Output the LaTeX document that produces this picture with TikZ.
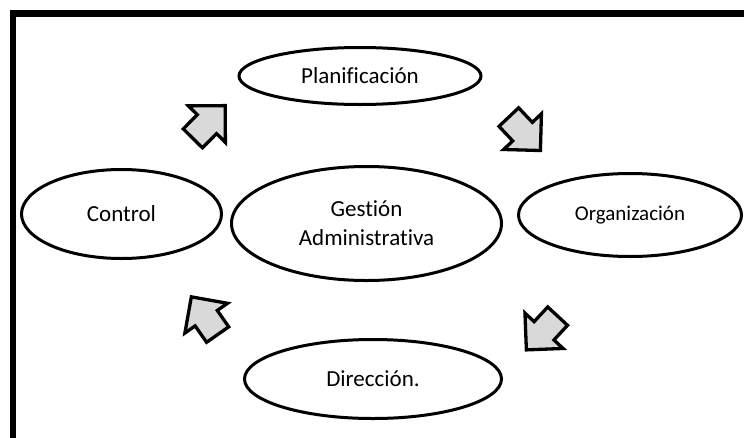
\documentclass[tikz,border=0pt]{standalone}
\usepackage{fontspec}
\setmainfont{Carlito}[Ligatures=NoCommon]
\usetikzlibrary{shapes.geometric}
\tikzset{
  oval/.style={ellipse, draw=black, line width=3pt, inner sep=0pt, align=center,
    font=\fontsize{23}{29}\selectfont},
  blockarrow/.pic={
    \draw[line width=3.3pt, fill=black!15, line join=miter]
      (-23,-13.5) -- (-3,-13.5) -- (-3,-26) -- (23,0) -- (-3,26) -- (-3,13.5) -- (-23,13.5) -- cycle;
  }
}
\begin{document}
\begin{tikzpicture}[x=1pt,y=1pt]
\useasboundingbox (0,0) rectangle (744,-437);
\clip (0,0) rectangle (744,-437);
\fill[white] (0,0) rectangle (744,-437);
\draw[line width=6.5pt] (13,-450) -- (13,-13.5) -- (760,-13.5);

\node[oval, minimum width=242pt, minimum height=57pt] (plan) at (360,-76) {Planificación};
\node[oval, minimum width=200pt, minimum height=89pt] (ctrl) at (121.5,-214) {Control};
\node[oval, minimum width=270pt, minimum height=114pt] (gest) at (366.5,-223.5) {Gestión\\Administrativa};
\node[oval, minimum width=223pt, minimum height=83pt, font=\fontsize{21}{26}\selectfont] (org) at (630,-215) {Organización};
\node[oval, minimum width=257pt, minimum height=79pt] (dir) at (373,-379) {Dirección.};

\pic[rotate=45.4] at (209,-122) {blockarrow};
\pic[rotate=-46.6] at (524.6,-133.8) {blockarrow};
\pic[rotate=-132.8] at (542,-333) {blockarrow};
\pic[rotate=124.9] at (204.5,-315.7) {blockarrow};
\end{tikzpicture}
\end{document}
